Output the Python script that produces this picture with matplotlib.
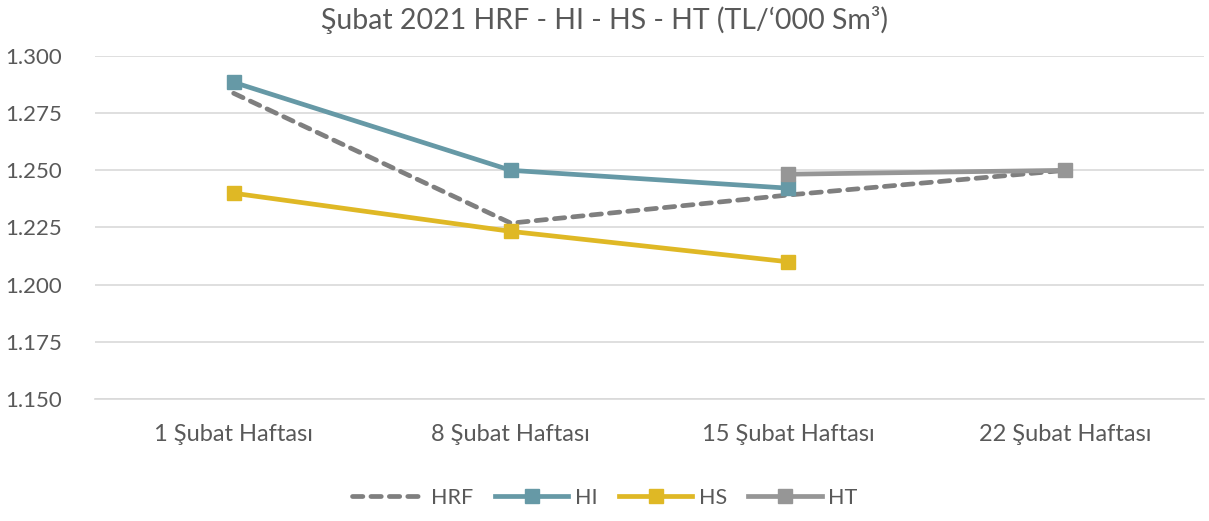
import matplotlib.pyplot as plt
import numpy as np

plt.rcParams['font.family'] = ['Lato', 'DejaVu Sans']

weeks = ['1 Şubat Haftası', '8 Şubat Haftası', '15 Şubat Haftası', '22 Şubat Haftası']
hrf = [1.2837, 1.2269, 1.2392, 1.2500]
hi = [1.2885, 1.2500, 1.2422, np.nan]
hs = [1.2400, 1.2233, 1.2100, np.nan]
ht = [np.nan, np.nan, 1.2483, 1.2500]

text_c = '#595959'

fig = plt.figure(figsize=(12.09, 5.21), dpi=100)
ax = fig.add_axes([0.0786, 0.2342, 0.9173, 0.6583])

x = np.arange(len(weeks))
ax.plot(x, hrf, color='#7f7f7f', lw=3.4, ls=(0, (2.2, 1.7)), dash_capstyle='round',
        solid_capstyle='round', label='HRF', zorder=3)
ax.plot(x, hi, color='#6699a6', lw=3.4, marker='s', ms=10.5, label='HI', zorder=4)
ax.plot(x, hs, color='#dfb825', lw=3.4, marker='s', ms=10.5, label='HS', zorder=4)
ax.plot(x, ht, color='#969696', lw=3.4, marker='s', ms=10.5, label='HT', zorder=5)

ax.set_xlim(-0.5, 3.5)
ax.set_ylim(1.150, 1.300)
yt = np.arange(1.150, 1.3001, 0.025)
ax.set_yticks(yt)
ax.set_yticklabels([f'{v:.3f}' for v in yt], fontsize=16)
ax.set_xticks(x)
ax.set_xticklabels(weeks, fontsize=17)
ax.yaxis.grid(True, color='#d9d9d9', lw=1.2)
ax.set_axisbelow(True)
for s in ['top', 'right', 'left']:
    ax.spines[s].set_visible(False)
ax.spines['bottom'].set_color('#d9d9d9')
ax.spines['bottom'].set_linewidth(1.2)
ax.tick_params(length=0, colors=text_c)
ax.tick_params(axis='x', pad=18)
ax.tick_params(axis='y', pad=24)

fig.text(0.5, 0.962, 'Şubat 2021 HRF - HI - HS - HT (TL/‘000 Sm³)', ha='center', va='center',
         fontsize=20.5, color=text_c)

fig.legend(*ax.get_legend_handles_labels(), loc='center', bbox_to_anchor=(0.5, 0.045),
           ncol=4, frameon=False, fontsize=15.5, labelcolor=text_c, handlelength=3.4,
           columnspacing=1.0, handletextpad=0.3)

fig.savefig('out.png', dpi=100)
